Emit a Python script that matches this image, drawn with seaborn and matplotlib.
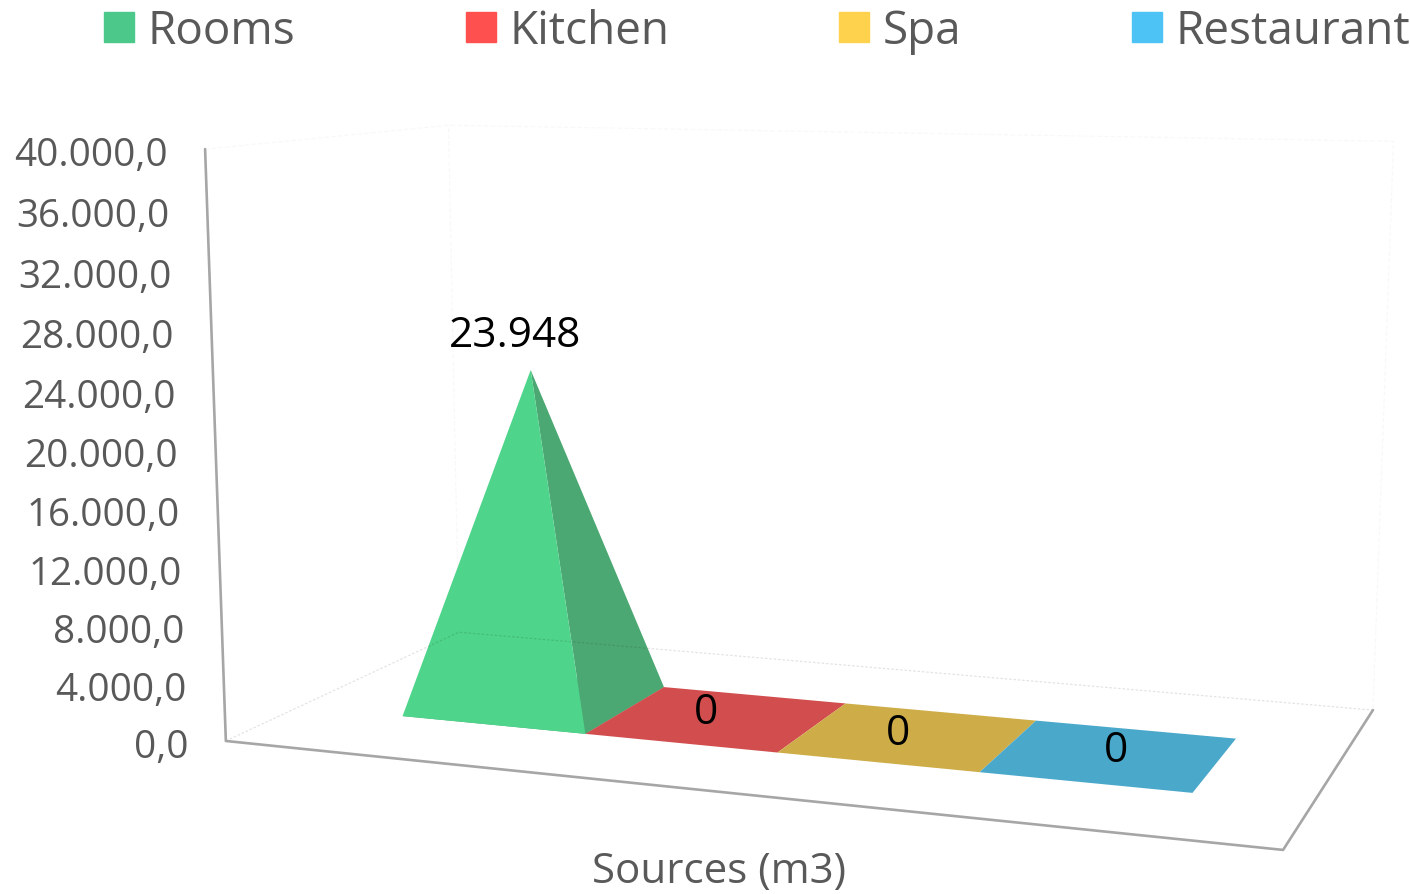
import numpy as np
import pandas as pd
import matplotlib
matplotlib.use('Agg')
import matplotlib.pyplot as plt
from matplotlib.patches import Patch
import seaborn as sns

# values
categories = ['Rooms', 'Kitchen', 'Spa', 'Restaurant']
values = [23948, 0, 0, 0]
value_labels = ['23.948', '0', '0', '0']
y_ticks = [0, 4000, 8000, 12000, 16000, 20000, 24000, 28000, 32000, 36000, 40000]
y_tick_labels = ['0,0', '4.000,0', '8.000,0', '12.000,0', '16.000,0', '20.000,0',
                 '24.000,0', '28.000,0', '32.000,0', '36.000,0', '40.000,0']
x_title = 'Sources (m3)'
y_max = 40000

legend_colors = ['#4cc98a', '#ff5050', '#ffd24d', '#4dc3f5']
floor_colors = ['#4ca873', '#d24e4e', '#cead48', '#4aa8cb']
front_color = '#4ed48b'
side_color = '#4ca873'

sns.set_theme(style='white')
plt.rcParams['font.family'] = ['Open Sans', 'DejaVu Sans']

fig, ax = plt.subplots(figsize=(14.1, 8.95), dpi=100)
ax.set_position([0, 0, 1, 1])
ax.set_xlim(0, 1410)
ax.set_ylim(895, 0)
ax.axis('off')

# camera of the 3d box, fitted on the corners of the box in the picture
# the solid axis corners count more than the faint back ones
box = [(0, 0, 0), (1, 0, 0), (1, 1, 0), (0, 1, 0), (0, 0, 1), (0, 1, 1), (1, 1, 1)]
screen = [(226, 742), (1283, 851), (1373, 711), (455, 633), (205, 150), (451, 128), (1393, 143)]
weight = [5, 5, 5, 1, 5, 1, 1]
A, b = [], []
for (X, Y, Z), (sx, sy), w in zip(box, screen, weight):
    A.append([w * t for t in [X, Y, Z, 1, 0, 0, 0, 0, -sx * X, -sx * Y, -sx * Z]])
    A.append([w * t for t in [0, 0, 0, 0, X, Y, Z, 1, -sy * X, -sy * Y, -sy * Z]])
    b += [w * sx, w * sy]
P = np.append(np.linalg.lstsq(np.array(A, float), np.array(b, float), rcond=None)[0], 1).reshape(3, 4)


def project(u, v, val=0):
    p = P @ np.array([u, v, val / y_max, 1])
    return p[0] / p[2], p[1] / p[2]


def edge(points, **kw):
    xy = pd.DataFrame(points, columns=['x', 'y'])
    sns.lineplot(data=xy, x='x', y='y', sort=False, estimator=None, ax=ax, legend=False, **kw)


# position of the bars on the floor
band_start, band_width = 0.1134, 0.1953
depth_front, depth_back = 0.287, 0.687

# back walls, very faint
wall = dict(color='#f8f8f8', linewidth=0.8, linestyle=(0, (4, 2)), zorder=1)
edge([project(0, 0, y_max), project(0, 1, y_max), project(1, 1, y_max), project(1, 1, 0)], **wall)
edge([project(0, 1, 0), project(0, 1, y_max)], **wall)

for i, (val, name) in enumerate(zip(values, categories)):
    u0 = band_start + i * band_width
    u1 = u0 + band_width
    fl, fr = project(u0, depth_front), project(u1, depth_front)
    br, bl = project(u1, depth_back), project(u0, depth_back)
    ax.fill(*zip(fl, fr, br, bl), color=floor_colors[i], linewidth=0, zorder=3)
    if val > 0:
        apex = project((u0 + u1) / 2, (depth_front + depth_back) / 2, val)
        ax.fill(*zip(fr, br, apex), color=side_color, linewidth=0, zorder=3)
        ax.fill(*zip(fl, fr, apex), color=front_color, linewidth=0, zorder=3)

# floor edges at the back, dotted, they show through the pyramid
floor = dict(color='black', alpha=0.11, linewidth=0.9, linestyle=(0, (2, 1.5)), zorder=4)
edge([project(0, 0, 0), project(0, 1, 0), project(1, 1, 0)], **floor)

# main axis lines
axis = dict(color='#a6a6a6', linewidth=1.9, zorder=4)
edge([project(0, 0, y_max), project(0, 0, 0), project(1, 0, 0), project(1, 1, 0)], **axis)

for tick, label in zip(y_ticks, y_tick_labels):
    x, y = project(0, 0, tick)
    ax.text(x - 37.5, y + 6, label, ha='right', va='center', fontsize=27.8, color='#595959')

label_shift = [(-16, -34.5), (-12, -6.5), (-11, -3.5), (5, -5.5)]
for i, (val, label) in enumerate(zip(values, value_labels)):
    u = band_start + (i + 0.5) * band_width
    x, y = project(u, (depth_front + depth_back) / 2, val)
    ax.text(x + label_shift[i][0], y + label_shift[i][1], label, ha='center', va='center',
            fontsize=30.5, color='black', zorder=5)

ax.text(719, 872, x_title, ha='center', va='center', fontsize=30.3, color='#595959')

handles = [Patch(color=c, label=n) for c, n in zip(legend_colors, categories)]
ax.legend(handles=handles, loc='upper left', bbox_to_anchor=(104 / 1410, 1 - 9 / 895), ncol=4,
          frameon=False, fontsize=33, labelcolor='#595959', borderpad=0, borderaxespad=0,
          handlelength=0.655, handleheight=0.655, handletextpad=0.30, columnspacing=3.71)

fig.savefig('out.png', dpi=100)
